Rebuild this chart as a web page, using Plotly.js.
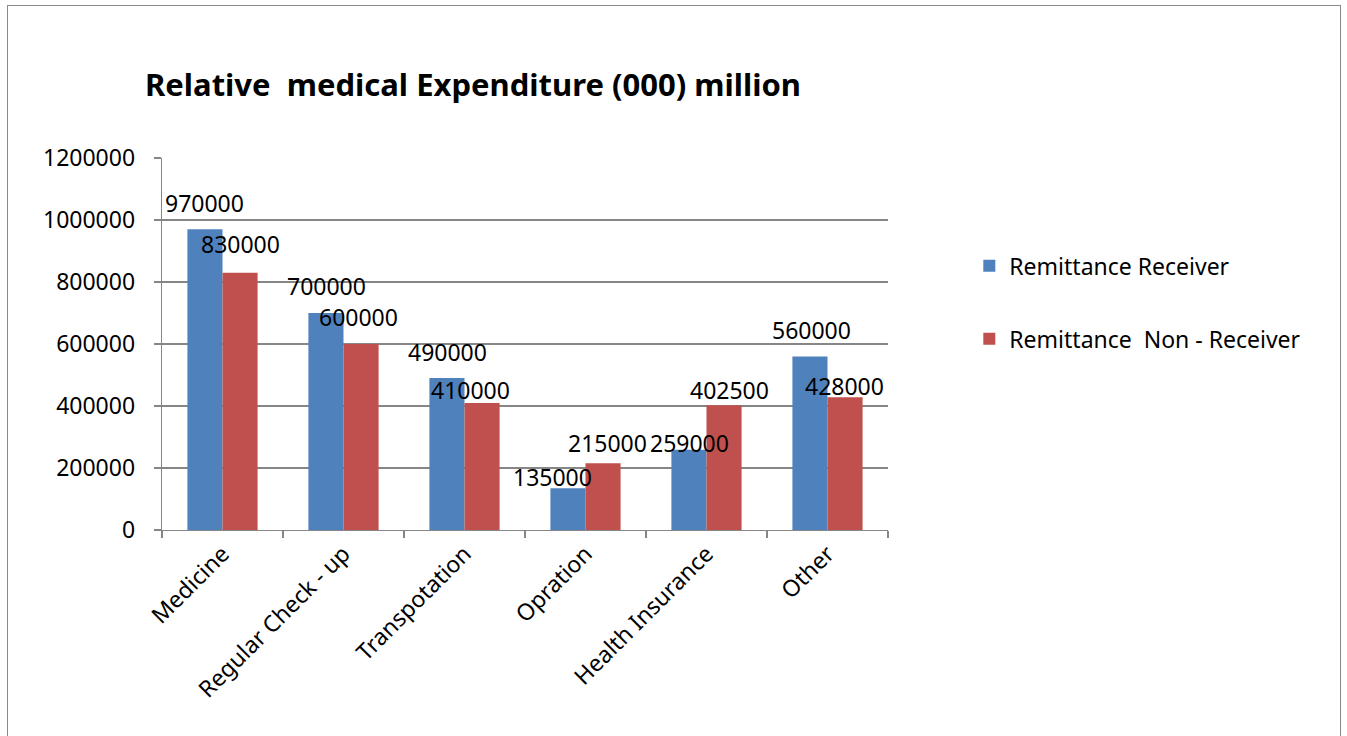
<!DOCTYPE html>
<html>
<head>
<meta charset="utf-8">
<script src="https://cdn.plot.ly/plotly-3.0.1.min.js"></script>
<style>
  html, body { margin: 0; padding: 0; background: #fff; overflow: hidden; }
  #chart { width: 1347px; height: 736px; }
  #frame { position: absolute; left: 7px; top: 5px; width: 1332px; height: 800px;
           border: 1.5px solid #8a8a8a; pointer-events: none; }
</style>
</head>
<body>
<div id="chart"></div>
<div id="frame"></div>
<script>
// ---- data ----
const categories = ["Medicine", "Regular Check - up", "Transpotation", "Opration", "Health Insurance", "Other"];
const seriesNames = ["Remittance Receiver", "Remittance  Non - Receiver"];
const receiver = [970000, 700000, 490000, 135000, 259000, 560000];
const nonReceiver = [830000, 600000, 410000, 215000, 402500, 428000];
const yTicks = [0, 200000, 400000, 600000, 800000, 1000000, 1200000];

// ---- label nudges (pixels, style only) ----
const recvDx = [0, 1, 1, -15, 1, 2];
const recvDy = [26, 27, 26, 11, 7, 26];
const nonDx = [0, -3, -12, 4, 5, -1];
const nonDy = [29, 27, 13, 20, 15, 11];

const colors = ["#4f81bd", "#c0504d"];
const FONT = "Noto Sans, Open Sans, DejaVu Sans, sans-serif";
const FS = 23;

const W = 1347, H = 736;
const margin = { l: 162, r: 459, t: 158, b: 206 };
const bargap = 0.42;
const plotW = W - margin.l - margin.r;
const barPx = (plotW / categories.length) * (1 - bargap) / 2;

const traces = [receiver, nonReceiver].map((vals, k) => ({
  type: "bar",
  name: seriesNames[k],
  x: categories,
  y: vals,
  legendgroup: "g" + k,
  marker: { color: colors[k], line: { width: 0 } },
  hoverinfo: "x+y"
}));

const annotations = [];
[receiver, nonReceiver].forEach((vals, k) => {
  const dx = k === 0 ? recvDx : nonDx;
  const dy = k === 0 ? recvDy : nonDy;
  vals.forEach((v, i) => {
    annotations.push({
      x: categories[i], y: v, xref: "x", yref: "y",
      text: String(v), showarrow: false,
      xanchor: "center", yanchor: "middle",
      xshift: (k === 0 ? -barPx / 2 : barPx / 2) + dx[i],
      yshift: dy[i],
      font: { family: FONT, size: FS, color: "#000" }
    });
  });
});

const layout = {
  width: W, height: H,
  margin: margin,
  paper_bgcolor: "#fff", plot_bgcolor: "#fff",
  font: { family: FONT, size: FS, color: "#000" },
  title: {
    text: "<b>Relative  medical Expenditure (000) million</b>",
    font: { family: FONT, size: 31, color: "#000" },
    xref: "container", yref: "container",
    x: 145 / W, xanchor: "left",
    y: 1 - 85 / H, yanchor: "middle"
  },
  barmode: "group",
  bargap: bargap,
  bargroupgap: 0,
  xaxis: {
    type: "category",
    tickangle: -45,
    ticks: "outside", ticklen: 7, tickcolor: "#868686", tickwidth: 1.3,
    tickson: "boundaries",
    showline: true, linecolor: "#868686", linewidth: 1.3,
    showgrid: false,
    tickfont: { family: FONT, size: FS, color: "#000" },
    fixedrange: true
  },
  yaxis: {
    range: [0, 1200000],
    tickvals: yTicks,
    ticktext: yTicks.map(String),
    ticks: "outside", ticklen: 7, tickcolor: "#868686", tickwidth: 1.3,
    ticklabelstandoff: 14,
    showline: true, linecolor: "#868686", linewidth: 1.3,
    showgrid: true, gridcolor: "#868686", gridwidth: 1.3,
    zeroline: false,
    tickfont: { family: FONT, size: FS, color: "#000" },
    fixedrange: true
  },
  showlegend: true,
  legend: {
    x: 1.112, xanchor: "left",
    y: 0.768, yanchor: "top",
    traceorder: "grouped",
    tracegroupgap: 40,
    font: { family: FONT, size: FS, color: "#000" },
    bgcolor: "rgba(0,0,0,0)"
  },
  annotations: annotations
};

Plotly.newPlot("chart", traces, layout, { displayModeBar: false, staticPlot: true });
</script>
</body>
</html>
